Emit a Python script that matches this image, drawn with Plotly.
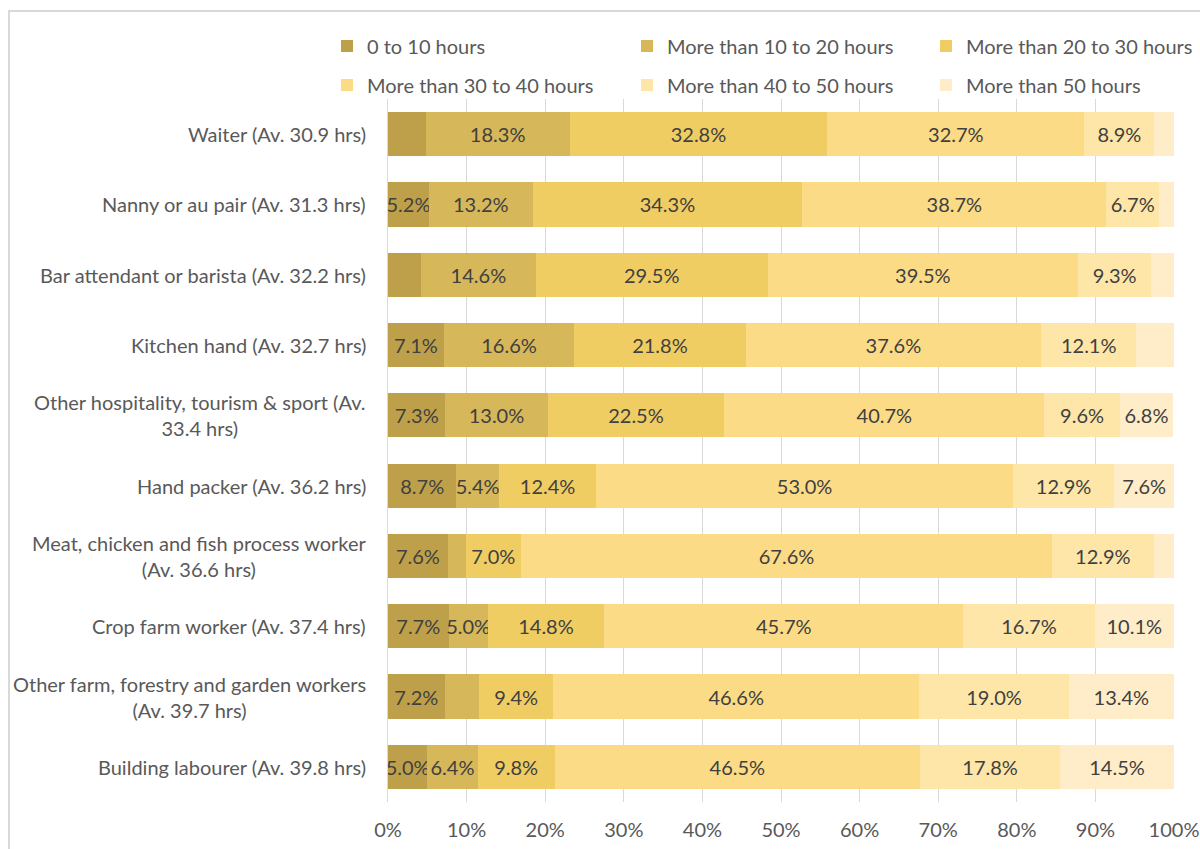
import plotly.graph_objects as go

categories = [
    "Waiter (Av. 30.9 hrs)",
    "Nanny or au pair (Av. 31.3 hrs)",
    "Bar attendant or barista (Av. 32.2 hrs)",
    "Kitchen hand (Av. 32.7 hrs)",
    "Other hospitality, tourism & sport (Av.<br>33.4 hrs)",
    "Hand packer (Av. 36.2 hrs)",
    "Meat, chicken and fish process worker<br>(Av. 36.6 hrs)",
    "Crop farm worker (Av. 37.4 hrs)",
    "Other farm, forestry and garden workers<br>(Av. 39.7 hrs)",
    "Building labourer (Av. 39.8 hrs)",
]

series_names = [
    "0 to 10 hours",
    "More than 10 to 20 hours",
    "More than 20 to 30 hours",
    "More than 30 to 40 hours",
    "More than 40 to 50 hours",
    "More than 50 hours",
]

h0_10 = [4.8, 5.2, 4.2, 7.1, 7.3, 8.7, 7.6, 7.7, 7.2, 5.0]
h10_20 = [18.3, 13.2, 14.6, 16.6, 13.0, 5.4, 2.3, 5.0, 4.4, 6.4]
h20_30 = [32.8, 34.3, 29.5, 21.8, 22.5, 12.4, 7.0, 14.8, 9.4, 9.8]
h30_40 = [32.7, 38.7, 39.5, 37.6, 40.7, 53.0, 67.6, 45.7, 46.6, 46.5]
h40_50 = [8.9, 6.7, 9.3, 12.1, 9.6, 12.9, 12.9, 16.7, 19.0, 17.8]
h50p = [2.5, 1.9, 2.9, 4.8, 6.8, 7.6, 2.6, 10.1, 13.4, 14.5]

series_values = [h0_10, h10_20, h20_30, h30_40, h40_50, h50p]
colors = ["#BFA04A", "#D6B75A", "#F0CD63", "#FBDB86", "#FDE6A8", "#FEEDC8"]

x_ticks = list(range(0, 101, 10))
x_ticklabels = [f"{t}%" for t in x_ticks]

FONT = "Lato, 'Open Sans', sans-serif"
FS = 20
GREY = "#595959"

# legend slots: (text left x px, row centre y px) for each series
legend_text_x = [367, 667, 966, 367, 667, 966]
legend_row_y = [47, 47, 47, 86, 86, 86]

fig = go.Figure()
legend_layout = {}
for i, (name, vals, col) in enumerate(zip(series_names, series_values, colors)):
    lname = "legend" if i == 0 else f"legend{i + 1}"
    fig.add_trace(go.Bar(
        y=categories,
        x=vals,
        name=name,
        orientation="h",
        marker=dict(color=col, line=dict(width=0)),
        text=[f"{v:.1f}%" if v >= 5 else "" for v in vals],
        textposition="inside",
        insidetextanchor="middle",
        textangle=0,
        constraintext="none",
        textfont=dict(size=FS, color="#404040", family=FONT),
        hoverinfo="x+y+name",
        legend=lname,
    ))
    legend_layout[lname] = dict(
        orientation="h",
        xref="container", yref="container",
        x=(legend_text_x[i] - 40) / 1200, xanchor="left",
        y=1 - (legend_row_y[i] - 1) / 849, yanchor="middle",
        font=dict(size=FS, color=GREY, family=FONT),
        itemwidth=30,
        bgcolor="rgba(0,0,0,0)",
    )

fig.update_layout(
    barmode="stack",
    bargap=0.37,
    width=1200,
    height=849,
    paper_bgcolor="white",
    plot_bgcolor="white",
    margin=dict(l=388, r=26, t=99, b=47, autoexpand=False),
    font=dict(family=FONT, size=FS, color=GREY),
    xaxis=dict(
        range=[0, 100],
        tickvals=x_ticks,
        ticktext=x_ticklabels,
        showgrid=True,
        gridcolor="#D9D9D9",
        gridwidth=1,
        zeroline=False,
        showline=False,
        tickfont=dict(size=FS, color=GREY),
        ticklabelstandoff=14,
        fixedrange=True,
    ),
    yaxis=dict(
        autorange="reversed",
        showgrid=False,
        showline=True,
        linecolor="#D9D9D9",
        linewidth=1,
        showticklabels=False,
        fixedrange=True,
    ),
    showlegend=True,
    **legend_layout,
)

# category labels (centered multi-line, right-anchored like the original)
for cat in categories:
    fig.add_annotation(
        x=0, xref="paper", y=cat, yref="y",
        xanchor="right", yanchor="middle", align="center",
        xshift=-20, showarrow=False,
        text=cat, font=dict(size=FS, color=GREY, family=FONT),
    )

# chart frame
fig.add_shape(
    type="rect", xref="paper", yref="paper",
    x0=(9 - 388) / 786, x1=1.2, y0=-0.3, y1=(802 - 11) / 703,
    line=dict(color="#D9D9D9", width=2), fillcolor="rgba(0,0,0,0)",
    layer="below",
)

fig.write_html(
    "out.html",
    config={"displayModeBar": False},
    post_script="document.body.style.margin='0';",
)
